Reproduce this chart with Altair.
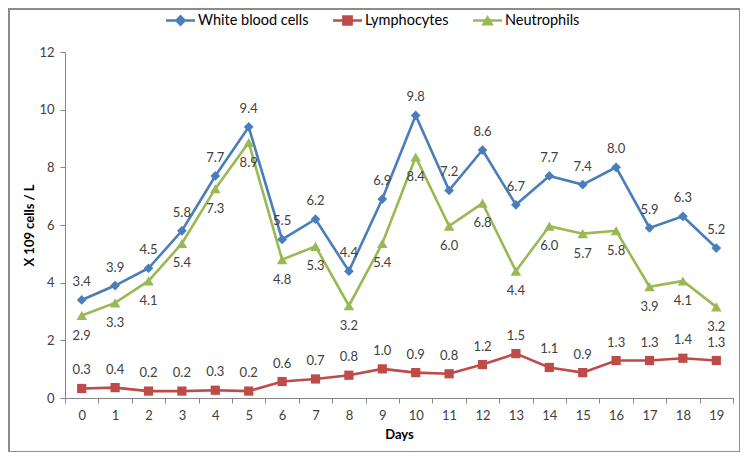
import altair as alt
import pandas as pd

days = list(range(20))
wbc = [3.4, 3.9, 4.5, 5.8, 7.7, 9.4, 5.5, 6.2, 4.4, 6.9, 9.8, 7.2, 8.6, 6.7, 7.7, 7.4, 8.0, 5.9, 6.3, 5.2]
lym = [0.33, 0.36, 0.24, 0.24, 0.27, 0.24, 0.57, 0.66, 0.79, 1.01, 0.88, 0.84, 1.16, 1.54, 1.06, 0.88, 1.3, 1.3, 1.38, 1.3]
neu = [2.86, 3.3, 4.06, 5.36, 7.26, 8.86, 4.8, 5.26, 3.2, 5.36, 8.36, 5.96, 6.76, 4.4, 5.96, 5.7, 5.8, 3.86, 4.06, 3.16]

series = ["White blood cells", "Lymphocytes", "Neutrophils"]
colors = ["#4A7EBB", "#BE4B48", "#98B954"]
shapes = ["diamond", "square", "triangle-up"]
# legend glyphs: a short line with the series marker on it
legend_glyphs = [
    "M-1,-0.09L1,-0.09L1,0.09L-1,0.09Z M0,-0.42L0.4,0L0,0.42L-0.4,0Z",
    "M-1,-0.09L1,-0.09L1,0.09L-1,0.09Z M-0.37,-0.37L0.37,-0.37L0.37,0.37L-0.37,0.37Z",
    "M-1,-0.09L1,-0.09L1,0.09L-1,0.09Z M0,-0.38L0.43,0.34L-0.43,0.34Z",
]

rows = []
for name, vals in zip(series, [wbc, lym, neu]):
    for d, v in zip(days, vals):
        rows.append({"day": d, "value": v, "series": name})
df = pd.DataFrame(rows)

FONT = "Lato"
TXT = "#404040"
AXC = "#868686"

x_enc = alt.X(
    "day:Q",
    scale=alt.Scale(domain=[-0.5, 19.5], nice=False, zero=False),
    axis=alt.Axis(
        values=[i - 0.5 for i in range(21)],
        labelExpr="datum.value < 19 ? format(datum.value + 0.5, 'd') : ''",
        labelOffset=16.7,
        labelOverlap=False,
        labelBound=False,
        labelFlush=False,
        grid=False,
        title="Days",
        titleFontWeight="bold",
        titleFontSize=13,
        titlePadding=6,
        labelPadding=6,
        tickSize=5,
        labelFontSize=13,
    ),
)
y_enc = alt.Y(
    "value:Q",
    scale=alt.Scale(domain=[0, 12], nice=False),
    axis=alt.Axis(
        values=[0, 2, 4, 6, 8, 10, 12],
        grid=False,
        title="X 109 cells / L",
        titleFontWeight="bold",
        titleFontSize=13,
        titleX=-29,
        titleY=173,
        labelPadding=6,
        tickSize=5,
        labelFontSize=13,
    ),
)
legend_opts = dict(
    title=None,
    orient="none",
    legendX=101,
    legendY=-46,
    direction="horizontal",
    columnPadding=24,
    labelOffset=3,
    labelFontSize=14.5,
    labelFont=FONT,
    labelColor="#000000",
    symbolSize=841,
    symbolStrokeWidth=0,
    symbolOpacity=1,
)
color_scale = alt.Scale(domain=series, range=colors)
color_enc = alt.Color("series:N", scale=color_scale, legend=alt.Legend(**legend_opts))

base = alt.Chart(df)

legend_layer = base.transform_filter("false").mark_point(filled=True).encode(
    x=x_enc,
    y=y_enc,
    color=color_enc,
    shape=alt.Shape(
        "series:N",
        scale=alt.Scale(domain=series, range=legend_glyphs),
        legend=alt.Legend(**legend_opts),
    ),
)

lines = base.mark_line(strokeWidth=2.6).encode(x=x_enc, y=y_enc, color=color_enc, detail="series:N")

point_sizes = [95, 85, 110]
point_layers = [
    base.transform_filter(alt.datum.series == name)
    .mark_point(filled=True, size=sz, opacity=1, shape=shp)
    .encode(x=x_enc, y=y_enc, color=color_enc)
    for name, shp, sz in zip(series, shapes, point_sizes)
]

labels_up = base.transform_filter(alt.datum.series != "Neutrophils").mark_text(
    dy=-18, fontSize=13, font=FONT, color=TXT
).encode(x=x_enc, y=y_enc, text=alt.Text("value:Q", format=".1f"))
labels_down = base.transform_filter(alt.datum.series == "Neutrophils").mark_text(
    dy=20, fontSize=13, font=FONT, color=TXT
).encode(x=x_enc, y=y_enc, text=alt.Text("value:Q", format=".1f"))

frame = alt.Chart(pd.DataFrame({"a": [0]})).mark_rect(
    fill=None, stroke="#8c8c8c", strokeWidth=2
).encode(
    x=alt.value(-56), x2=alt.value(675), y=alt.value(-43), y2=alt.value(400)
)

chart = alt.layer(frame, legend_layer, lines, *point_layers, labels_up, labels_down).properties(
    width=668,
    height=346,
    autosize=alt.AutoSizeParams(type="none"),
    padding={"left": 57, "top": 44, "right": 7, "bottom": 54},
    background="white",
).configure_view(stroke=None).configure_axis(
    domainColor=AXC,
    tickColor=AXC,
    labelColor=TXT,
    titleColor="#000000",
    labelFont=FONT,
    titleFont=FONT,
)

chart.save("out.html", embed_options={"renderer": "svg", "actions": False})
